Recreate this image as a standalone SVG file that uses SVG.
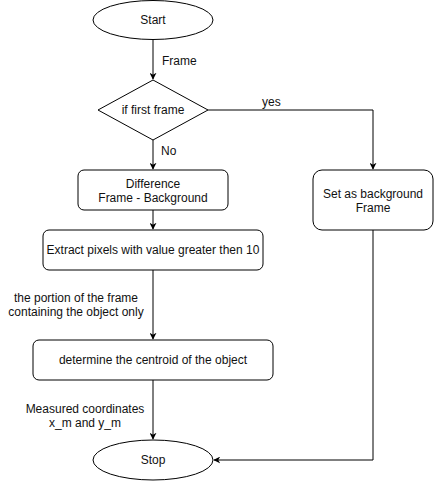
<svg xmlns="http://www.w3.org/2000/svg" width="434" height="481" viewBox="0 0 434 481">
<defs>
<marker id="arr" viewBox="0 0 10 10" refX="9" refY="5" markerWidth="7" markerHeight="7" markerUnits="userSpaceOnUse" orient="auto">
<path d="M0,0 L10,5 L0,10 L3,5 Z" fill="#000"/>
</marker>
<style>
.s{fill:#fff;stroke:#000;stroke-width:1}
.c{fill:none;stroke:#000;stroke-width:1}
text{font-family:"Liberation Sans",Arial,sans-serif;font-size:12px;fill:#111}
.m{text-anchor:middle}
</style>
</defs>
<rect width="434" height="481" fill="#fff"/>
<g id="connectors">
<path class="c" d="M153,40 V79" marker-end="url(#arr)"/>
<path class="c" d="M208,110 H373 V169" marker-end="url(#arr)"/>
<path class="c" d="M153,140 V169" marker-end="url(#arr)"/>
<path class="c" d="M153,210 V229" marker-end="url(#arr)"/>
<path class="c" d="M153,270 V339" marker-end="url(#arr)"/>
<path class="c" d="M153,380 V439" marker-end="url(#arr)"/>
<path class="c" d="M373,230 V460 H214" marker-end="url(#arr)"/>
<text x="162" y="65">Frame</text>
<text x="262" y="106">yes</text>
<text x="161" y="155">No</text>
<text class="m" x="76" y="302">the portion of the frame</text>
<text class="m" x="76" y="316">containing the object only</text>
<text class="m" x="85" y="413">Measured coordinates</text>
<text class="m" x="85" y="427">x_m and y_m</text>
</g>
<g id="start">
<ellipse class="s" cx="153" cy="20" rx="60" ry="19.5"/>
<text class="m" x="153" y="24">Start</text>
</g>
<g id="decision">
<polygon class="s" points="153,80 208,110 153,140 98,110"/>
<text class="m" x="153" y="114">if first frame</text>
</g>
<g id="difference">
<rect class="s" x="78" y="170" width="150" height="40" rx="6"/>
<text class="m" x="153" y="188">Difference</text>
<text class="m" x="153" y="202">Frame - Background</text>
</g>
<g id="background">
<rect class="s" x="313" y="170" width="120" height="60" rx="9"/>
<text class="m" x="373" y="198">Set as background</text>
<text class="m" x="373" y="212">Frame</text>
</g>
<g id="extract">
<rect class="s" x="43" y="230" width="220" height="40" rx="6"/>
<text class="m" x="153" y="254">Extract pixels with value greater then 10</text>
</g>
<g id="centroid">
<rect class="s" x="33" y="340" width="240" height="40" rx="6"/>
<text class="m" x="153" y="364">determine the centroid of the object</text>
</g>
<g id="stop">
<ellipse class="s" cx="153" cy="460" rx="60" ry="20"/>
<text class="m" x="153" y="464">Stop</text>
</g>
</svg>
